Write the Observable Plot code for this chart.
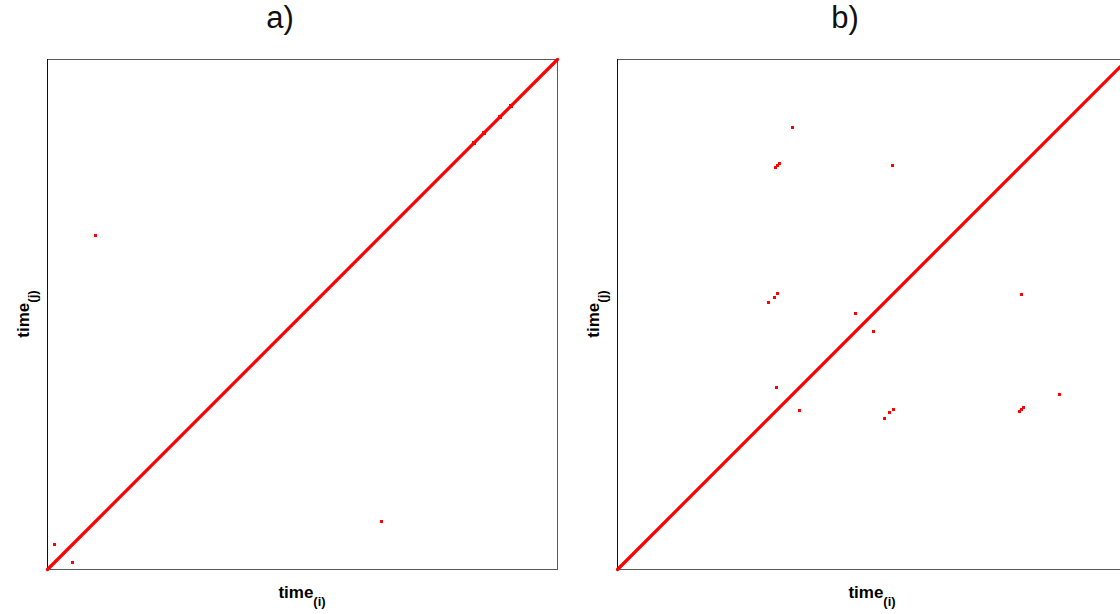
<!DOCTYPE html>
<html>
<head>
<meta charset="utf-8">
<script src="https://cdn.jsdelivr.net/npm/d3@7"></script>
<script src="https://cdn.jsdelivr.net/npm/@observablehq/plot@0.6"></script>
<style>
  html, body { margin: 0; padding: 0; background: #fff; overflow: hidden; width: 1120px; height: 614px; }
  #wrap { display: flex; width: 1140px; }
  .panel { flex: none; }
  .title { height: 50px; line-height: 44px; text-align: center; font: 31px "Liberation Sans", Arial, sans-serif; color: #111; }
  .panel svg { max-width: none !important; }
</style>
</head>
<body>
<div id="wrap"></div>
<script>
// Panel titles and the shared time span (sample index)
const panelTitles = ["a)", "b)"];
const timeSpan = [0, 510];

// Recurrence pairs (i, j) off the main diagonal, panel a
const recurA_i = [48, 334, 7, 25, 426, 427, 436, 437, 452, 453, 463, 464];
const recurA_j = [334, 48, 25, 7, 427, 426, 437, 436, 453, 452, 464, 463];

// Recurrence pairs (i, j) off the main diagonal, panel b
const recurB_i = [175, 442, 158, 160, 162, 402, 404, 406, 275, 404, 151, 157, 160, 267, 272, 276, 238, 256, 159, 182];
const recurB_j = [442, 175, 402, 404, 406, 158, 160, 162, 404, 275, 267, 272, 276, 151, 157, 160, 256, 238, 182, 159];

const RED = "#ff0000";
const FONT = "'Liberation Sans', Arial, sans-serif";

function recurrencePanel(title, is, js, marginLeft, width) {
  const size = 510, marginTop = 9, marginBottom = 45, height = 564;
  const points = is.map((i, k) => ({i, j: js[k]}));
  const diagonal = timeSpan.map(t => ({t}));

  const plot = Plot.plot({
    width, height, marginLeft, marginRight: width - marginLeft - size,
    marginTop, marginBottom,
    x: {domain: timeSpan, axis: null},
    y: {domain: timeSpan, axis: null},
    marks: [
      Plot.frame({stroke: "#5a5a5a"}),
      Plot.ruleX([timeSpan[0]], {stroke: "#111"}),
      Plot.line(diagonal, {x: "t", y: "t", stroke: RED, strokeWidth: 3.2}),
      Plot.dot(points, {x: "i", y: "j", symbol: "square", r: 1.7, fill: RED})
    ]
  });

  const svg = d3.select(plot);
  const cx = marginLeft + size / 2;
  const cy = marginTop + size / 2;
  const bottom = marginTop + size;

  // x label: time(i)
  const xl = svg.append("text")
    .attr("x", cx).attr("y", bottom + 29)
    .attr("text-anchor", "middle")
    .attr("font-family", FONT).attr("font-weight", "bold")
    .attr("font-size", 17).attr("fill", "#000");
  xl.append("tspan").text("time");
  xl.append("tspan").attr("font-size", 13).attr("dy", 8).text("(i)");

  // y label: time(j)
  const yl = svg.append("text")
    .attr("transform", `translate(${marginLeft - 18},${cy}) rotate(-90)`)
    .attr("text-anchor", "middle")
    .attr("font-family", FONT).attr("font-weight", "bold")
    .attr("font-size", 17).attr("fill", "#000");
  yl.append("tspan").text("time");
  yl.append("tspan").attr("font-size", 13).attr("dy", 8).text("(j)");

  const div = document.createElement("div");
  div.className = "panel";
  div.style.width = width + "px";
  const t = document.createElement("div");
  t.className = "title";
  t.textContent = title;
  div.appendChild(t);
  div.appendChild(plot);
  return div;
}

const wrap = document.getElementById("wrap");
wrap.appendChild(recurrencePanel(panelTitles[0], recurA_i, recurA_j, 47, 560));
wrap.appendChild(recurrencePanel(panelTitles[1], recurB_i, recurB_j, 57, 570));
</script>
</body>
</html>
